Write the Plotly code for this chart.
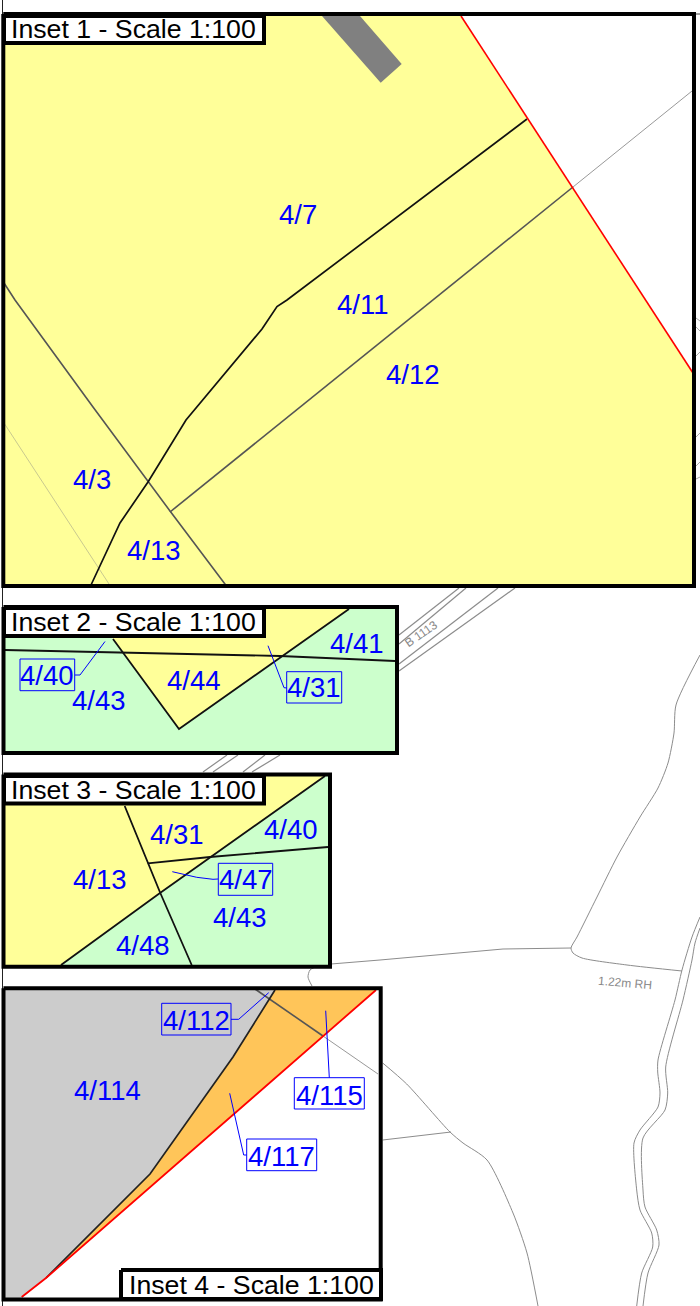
import plotly.graph_objects as go

# ---- background survey lines ----
page_left_rule = [(2.5, 0), (2.5, 1306)]
page_top_stub = [(696, 14), (700, 14)]
edge_stubs = [
    [(696, 318), (700, 321)], [(696, 327), (700, 331)], [(696, 356), (700, 352)],
    [(696, 437), (700, 433)], [(696, 466), (700, 462)], [(696, 479), (700, 477)],
]
road_b1113 = [
    [(399, 635), (443, 600), (459, 588)],
    [(399, 644), (452, 600), (466, 588)],
    [(399, 664), (483, 600), (498, 588)],
    [(399, 671), (498, 600), (515, 588)],
    [(227, 755), (203, 772)], [(238, 755), (213, 772)],
    [(265, 755), (243, 772)], [(280, 755), (252, 772)],
]
track_upper = [(700, 655), (676, 705), (674, 733), (668, 763), (658, 788), (640, 817),
               (617, 857), (597, 897), (577, 937), (571, 948), (573, 953), (582, 958),
               (627, 965), (682, 971)]
track_west = [(331, 964), (380, 960), (503, 949), (571, 948)]
track_west_end = [(331, 964), (318, 966), (310, 970), (308, 977), (312, 986)]
lane_left = [(700, 917), (692, 937), (682, 970), (675, 1000), (658, 1060), (657.7, 1072),
             (660, 1093), (658, 1107), (640, 1130), (634, 1143), (636.7, 1190), (640, 1210),
             (651.7, 1233), (652.7, 1247), (641.7, 1273), (636.7, 1306)]
lane_right = [(700, 928), (695, 943), (692, 960), (683, 1000), (665.7, 1067), (667.7, 1093),
              (665, 1110), (643, 1138), (643, 1190), (645, 1207), (656.7, 1230), (659, 1245),
              (648, 1273), (643, 1306)]
road_lower = [(382.7, 1063), (406.7, 1084), (450, 1132), (463, 1143), (487, 1160),
              (513, 1213), (527, 1253), (538, 1306)]
road_branch = [(382.7, 1140), (451, 1132)]

# ---- inset 1 ----
inset1_frame = [(3.3, 14), (694, 14), (694, 586), (3.3, 586)]
inset1_yellow = [(4, 16), (461, 16), (693, 373), (693, 585), (4, 585)]
inset1_white = [(461, 16), (693, 16), (693, 373)]
inset1_grey = [(322, 16), (360, 16), (401.7, 64), (380.7, 82.7)]
inset1_red = [(461, 16), (693, 373)]
inset1_black = [(527, 119), (287, 300), (277, 306.5), (262, 329), (186, 420), (148, 482),
                (120, 523), (91, 585)]
inset1_dark_a = [(573, 187), (170, 512)]
inset1_light_a = [(573, 187), (692, 91)]
inset1_dark_b = [(4, 283), (15, 300), (93, 407), (147, 480), (170, 511), (225.7, 585)]
inset1_faint = [(4, 423), (109, 584)]
inset1_title = [(4, 16), (264, 16), (264, 43), (4, 43)]

# ---- inset 2 ----
inset2_frame = [(3.5, 607), (397, 607), (397, 753), (3.5, 753)]
inset2_green = [(4, 608), (396, 608), (396, 752), (4, 752)]
inset2_yellow = [(91, 609), (349, 609), (179, 729)]
inset2_black_a = [(113, 639), (179, 729), (349, 609)]
inset2_black_b = [(5, 650), (280, 656), (395, 661)]
inset2_title = [(4, 608), (264, 608), (264, 636), (4, 636)]
inset2_box_a = [(20, 659), (74.7, 659), (74.7, 690.7), (20, 690.7)]
inset2_box_b = [(286.7, 671.7), (341.7, 671.7), (341.7, 703), (286.7, 703)]
inset2_leader_a = [(105, 641.5), (80, 675), (75, 675)]
inset2_leader_b = [(268, 645.7), (284, 687.7), (287, 688)]

# ---- inset 3 ----
inset3_frame = [(3.5, 774.5), (330, 774.5), (330, 966.7), (3.5, 966.7)]
inset3_yellow = [(4, 775), (329, 775), (329, 966), (4, 966)]
inset3_green = [(325, 776), (329, 776), (329, 965), (61, 965), (160, 893)]
inset3_diag = [(325, 776), (160, 893), (61, 965)]
inset3_spine = [(124.7, 806), (147.7, 863), (160.3, 893), (191.7, 965)]
inset3_cross = [(147.7, 863.3), (210, 857), (328, 847)]
inset3_title = [(4, 776), (264, 776), (264, 803.5), (4, 803.5)]
inset3_box = [(218.3, 863.3), (272.7, 863.3), (272.7, 895.3), (218.3, 895.3)]
inset3_leader = [(172.3, 871.7), (196.7, 877.3), (213, 879.3), (218, 879)]

# ---- inset 4 ----
inset4_frame = [(3.5, 988.3), (380.7, 988.3), (380.7, 1299.4), (3.5, 1299.4)]
inset4_white = [(4, 989), (380, 989), (380, 1299), (4, 1299)]
inset4_grey = [(5, 990), (275, 990), (233, 1057), (150, 1174), (46, 1278), (22, 1298), (5, 1298)]
inset4_orange = [(275, 990), (376, 990), (46, 1278), (150, 1174), (233, 1057)]
inset4_black = [(275, 990), (233, 1057), (150, 1174), (46, 1278)]
inset4_red = [(376, 990), (46, 1278), (21.7, 1297)]
inset4_dark = [(255, 989), (323, 1036)]
inset4_light = [(323, 1036), (378, 1074)]
inset4_title = [(121, 1270), (381, 1270), (381, 1299), (121, 1299)]
inset4_box_a = [(161.7, 1003.3), (231, 1003.3), (231, 1035), (161.7, 1035)]
inset4_box_b = [(294.3, 1077.7), (364.3, 1077.7), (364.3, 1109), (294.3, 1109)]
inset4_box_c = [(246.7, 1139), (316.7, 1139), (316.7, 1170.7), (246.7, 1170.7)]
inset4_leader_a = [(268.7, 992.7), (238.7, 1019.3), (231, 1019.3)]
inset4_leader_b = [(325.7, 1010.7), (329.3, 1077.7)]
inset4_leader_c = [(229.7, 1093.3), (243.7, 1155), (246.7, 1155)]

# ---- text ----
title_texts = ["Inset 1 - Scale 1:100", "Inset 2 - Scale 1:100", "Inset 3 - Scale 1:100", "Inset 4 - Scale 1:100"]
title_xy = [(133, 29), (133, 622), (133, 789.5), (251, 1285)]
plot_labels = ["4/7", "4/11", "4/12", "4/3", "4/13",
               "4/40", "4/43", "4/44", "4/41", "4/31",
               "4/31", "4/40", "4/13", "4/47", "4/43", "4/48",
               "4/112", "4/114", "4/115", "4/117"]
plot_label_xy = [(297.7, 214), (362, 304), (413, 374), (91.7, 479), (154, 550.7),
                 (47, 675), (99, 700), (193.8, 680), (356.5, 643), (314, 687),
                 (177, 834), (290.7, 829), (100, 879), (245.5, 879), (240.3, 917), (143.3, 945.7),
                 (196.5, 1020), (107.3, 1090), (329, 1095), (281.7, 1156)]
map_texts = ["B 1113", "1.22m RH"]
map_text_xy = [(421, 634), (625, 983)]
map_text_angle = [-35, 5]

FONT = "Liberation Sans"
YELLOW = "#ffff99"
GREEN = "#ccffcc"
ORANGE = "#ffc559"
GREY_FILL = "#cccccc"
BLUE = "#0000ff"
RED = "#ff0000"
DARK = "#555555"
SURVEY = "#8c8c8c"
FRAME_W = 4

fig = go.Figure()


def add(points, color=None, width=1.0, fill=None, closed=False, smooth=False):
    xs = [p[0] for p in points]
    ys = [p[1] for p in points]
    if closed or fill:
        xs.append(xs[0])
        ys.append(ys[0])
    line = dict(color=color or "rgba(0,0,0,0)", width=width if color else 0)
    if smooth:
        line.update(shape="spline", smoothing=0.7)
    fig.add_trace(go.Scatter(
        x=xs, y=ys, mode="lines", hoverinfo="skip", showlegend=False,
        line=line, fill="toself" if fill else "none", fillcolor=fill,
    ))


# background
add(page_left_rule, "#222222", 1)
add(page_top_stub, "#444444", 1)
for seg in edge_stubs:
    add(seg, "#aaaaaa", 1)
for seg in road_b1113:
    add(seg, SURVEY, 1.2)
for seg in (track_upper, track_west_end, lane_left, lane_right, road_lower):
    add(seg, SURVEY, 1, smooth=True)
for seg in (track_west, road_branch):
    add(seg, SURVEY, 1)

# inset 1
add(inset1_white, fill="#ffffff")
add(inset1_yellow, fill=YELLOW)
add(inset1_grey, fill="#808080")
add(inset1_faint, "#c9c98f", 1)
add(inset1_dark_a, DARK, 1.6)
add(inset1_light_a, "#999999", 1)
add(inset1_dark_b, DARK, 1.6)
add(inset1_black, "#111111", 1.7)
add(inset1_red, RED, 1.6)
add(inset1_title, "#000000", FRAME_W, fill="#ffffff")
add(inset1_frame, "#000000", FRAME_W, closed=True)

# inset 2
add(inset2_green, fill=GREEN)
add(inset2_yellow, fill=YELLOW)
add(inset2_black_a, "#111111", 1.8)
add(inset2_black_b, "#111111", 1.8)
add(inset2_title, "#000000", FRAME_W, fill="#ffffff")
add(inset2_frame, "#000000", FRAME_W, closed=True)
for box in (inset2_box_a, inset2_box_b):
    add(box, BLUE, 1, closed=True)
for ld in (inset2_leader_a, inset2_leader_b):
    add(ld, BLUE, 1)

# inset 3
add(inset3_yellow, fill=YELLOW)
add(inset3_green, fill=GREEN)
add(inset3_diag, "#111111", 1.8)
add(inset3_spine, "#111111", 1.8)
add(inset3_cross, "#111111", 1.8)
add(inset3_title, "#000000", FRAME_W, fill="#ffffff")
add(inset3_frame, "#000000", FRAME_W, closed=True)
add(inset3_box, BLUE, 1, closed=True)
add(inset3_leader, BLUE, 1)

# inset 4
add(inset4_white, fill="#ffffff")
add(inset4_grey, fill=GREY_FILL)
add(inset4_orange, fill=ORANGE)
add(inset4_dark, DARK, 1.6)
add(inset4_light, "#999999", 1)
add(inset4_black, "#222222", 1.7)
add(inset4_red, RED, 1.8)
add(inset4_frame, "#000000", FRAME_W, closed=True)
add(inset4_title, "#000000", FRAME_W, fill="#ffffff")
for box in (inset4_box_a, inset4_box_b, inset4_box_c):
    add(box, BLUE, 1, closed=True)
for ld in (inset4_leader_a, inset4_leader_b, inset4_leader_c):
    add(ld, BLUE, 1)

annotations = []
for t, (x, y) in zip(title_texts, title_xy):
    annotations.append(dict(x=x, y=y, text=t, showarrow=False, xref="x", yref="y",
                            font=dict(family=FONT, size=26.7, color="#000000")))
for t, (x, y) in zip(plot_labels, plot_label_xy):
    annotations.append(dict(x=x, y=y, text=t, showarrow=False, xref="x", yref="y",
                            font=dict(family=FONT, size=27.5, color=BLUE)))
for t, (x, y), a in zip(map_texts, map_text_xy, map_text_angle):
    annotations.append(dict(x=x, y=y, text=t, showarrow=False, xref="x", yref="y", textangle=a,
                            font=dict(family=FONT, size=12, color="#888888")))

fig.update_layout(
    width=700, height=1306, margin=dict(l=0, r=0, t=0, b=0),
    paper_bgcolor="#ffffff", plot_bgcolor="#ffffff", showlegend=False,
    xaxis=dict(range=[0, 700], visible=False, fixedrange=True),
    yaxis=dict(range=[1306, 0], visible=False, fixedrange=True),
    annotations=annotations,
)
fig.write_html("out.html", config=dict(displayModeBar=False),
               post_script="document.body.style.margin='0';document.body.style.overflow='hidden';")
